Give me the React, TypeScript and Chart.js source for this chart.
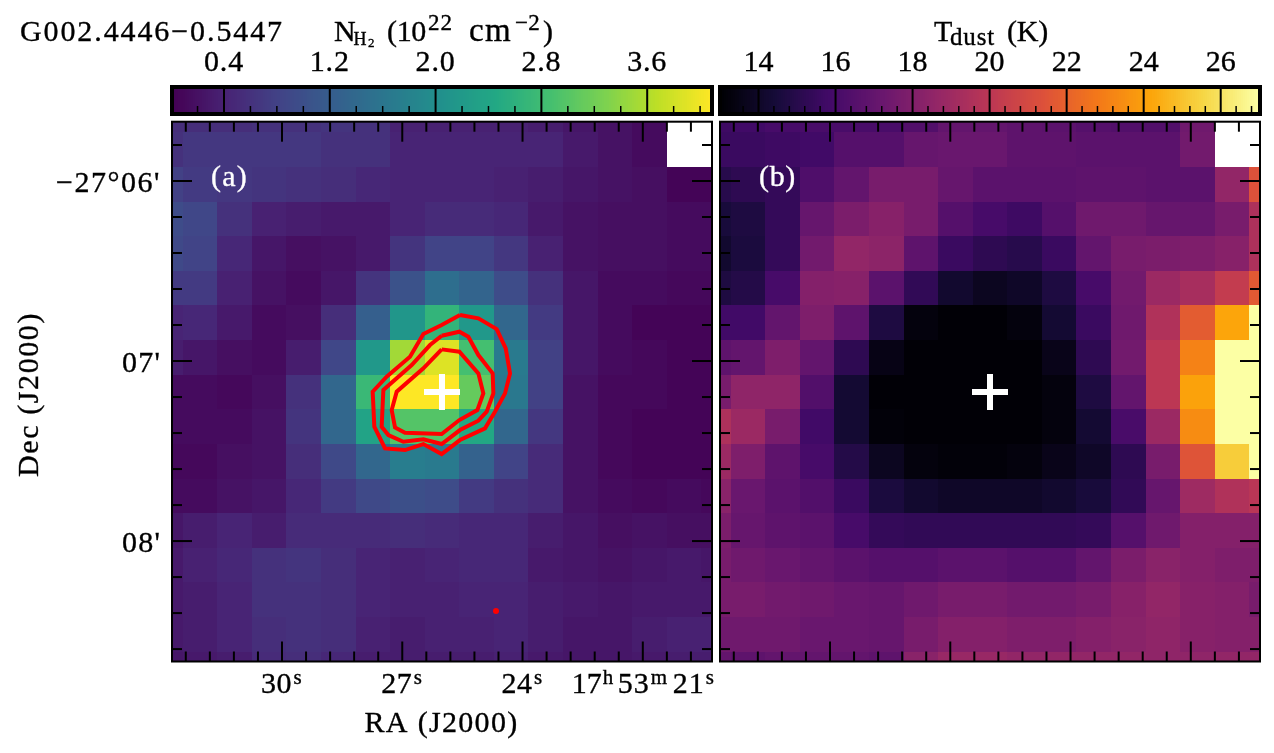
import React, { useEffect, useRef } from "react";
import { Chart, registerables } from "chart.js";

Chart.register(...registerables);

const FONT = '"Liberation Serif"';
const SIZE = 30;

// ---------- colour maps ----------
const VIRIDIS = ["#440154","#482475","#414487","#355f8d","#2a788e","#21918c","#22a884","#44bf70","#7ad151","#bddf26","#fde725"];
const INFERNO = ["#000004","#160b39","#420a68","#6a176e","#932667","#bc3754","#dd513a","#f37819","#fca50a","#f6d746","#fcffa4"];

// ---------- colour scale limits ----------
const N_LIMITS = [0.02, 4.08];
const T_LIMITS = [13.06, 26.97];

// ---------- axes ----------
const RA_RANGE = [19.274, 32.744];
const DEC_RANGE = [5.6706, 8.669];
const RA_MAJOR = [30, 27, 24, 21];
const RA_MINOR = [32.4, 31.8, 31.2, 30.6, 29.4, 28.8, 28.2, 27.6, 26.4, 25.8, 25.2, 24.6, 23.4, 22.8, 22.2, 21.6, 20.4, 19.8];
const DEC_MAJOR = [6, 7, 8];
const DEC_MINOR = [5.8, 6.2, 6.4, 6.6, 6.8, 7.2, 7.4, 7.6, 7.8, 8.2, 8.4, 8.6];
const N_BAR_RANGE = [0.007, 4.09];
const N_MAJOR = [0.4, 1.2, 2.0, 2.8, 3.6];
const N_MINOR = [0.2, 0.6, 0.8, 1.0, 1.4, 1.6, 1.8, 2.2, 2.4, 2.6, 3.0, 3.2, 3.4, 3.8, 4.0];
const N_LABELS = ["0.4", "1.2", "2.0", "2.8", "3.6"];
const T_BAR_RANGE = [13.0, 27.02];
const T_MAJOR = [14, 16, 18, 20, 22, 24, 26];
const T_MINOR = [13.6, 14.4, 14.8, 15.2, 15.6, 16.4, 16.8, 17.2, 17.6, 18.4, 18.8, 19.2, 19.6, 20.4, 20.8, 21.2, 21.6, 22.4, 22.8, 23.2, 23.6, 24.4, 24.8, 25.2, 25.6, 26.4, 26.8];
const T_LABELS = ["14", "16", "18", "20", "22", "24", "26"];

// ---------- map grid: pixel centre and size in axis units ----------
const GRID_RA_CENTRE = 26.009;
const GRID_DEC_CENTRE = 7.172;
const GRID_RA_STEP = 0.863;
const GRID_DEC_STEP = 0.1922;

// ---------- N(H2) map, 10^22 cm^-2 ----------
const N_MAP = [
  [.55,.55,.55,.59,.59,.63,.59,.39,.39,.39,.39,.34,.26,.22,.14,null,null],
  [.59,.67,.67,.67,.67,.59,.59,.43,.43,.43,.43,.43,.30,.22,.14,null,null],
  [.79,.71,.67,.63,.59,.55,.47,.43,.43,.43,.39,.34,.26,.22,.18,.06,.06],
  [.95,.87,.59,.39,.34,.30,.30,.43,.51,.51,.47,.30,.22,.18,.18,.14,.14],
  [.91,.83,.47,.26,.18,.22,.30,.63,.83,.83,.67,.39,.22,.18,.18,.14,.14],
  [.71,.71,.39,.22,.14,.26,.63,1.04,1.48,1.32,.95,.59,.26,.14,.14,.10,.10],
  [.43,.47,.30,.14,.18,.55,1.24,2.13,2.66,2.17,1.36,.71,.26,.14,.06,.06,.06],
  [.34,.26,.18,.14,.34,.87,2.17,3.51,3.88,2.86,1.68,.79,.26,.14,.10,.06,.06],
  [.14,.14,.10,.18,.59,1.36,2.74,4.08,4.08,3.11,1.64,.79,.22,.10,.10,.06,.06],
  [.14,.14,.14,.22,.63,1.36,2.37,2.98,2.98,2.46,1.36,.67,.22,.10,.06,.06,.06],
  [.10,.10,.18,.22,.55,.91,1.36,1.73,1.68,1.28,.83,.51,.22,.10,.06,.06,.06],
  [.14,.14,.22,.26,.47,.71,.91,.99,.95,.71,.59,.51,.22,.14,.10,.14,.10],
  [.26,.34,.43,.34,.51,.51,.51,.55,.51,.47,.47,.34,.26,.18,.22,.18,.18],
  [.30,.39,.47,.59,.63,.55,.43,.39,.43,.47,.47,.30,.26,.22,.26,.30,.26],
  [.30,.34,.43,.59,.59,.55,.43,.39,.39,.43,.43,.34,.30,.26,.30,.30,.30],
  [.30,.34,.43,.55,.59,.55,.39,.34,.39,.39,.43,.34,.26,.26,.34,.39,.39],
  [.26,.30,.34,.51,.55,.47,.34,.34,.34,.34,.39,.30,.26,.26,.30,.34,.34],
];

// ---------- dust temperature map, K ----------
const T_MAP = [
  [15.7,15.8,16.0,16.1,16.1,16.1,16.4,17.0,17.0,16.8,16.7,16.5,16.4,16.4,17.4,null,null],
  [15.6,15.6,15.7,15.8,16.5,16.5,17.1,17.2,17.2,16.8,16.8,16.7,16.7,16.7,17.5,null,null],
  [15.0,15.2,15.4,16.3,17.0,17.7,17.7,17.1,16.7,16.7,16.7,16.8,16.8,16.7,16.7,18.6,21.4],
  [14.5,14.7,15.4,17.1,17.8,18.2,17.7,16.5,16.0,15.7,16.5,17.4,17.4,17.1,17.1,17.7,19.5],
  [14.2,14.6,15.4,17.5,18.6,18.4,16.8,15.6,15.2,15.0,15.6,17.0,17.7,17.8,17.9,18.2,19.5],
  [14.7,14.9,16.0,18.1,18.2,16.7,15.3,14.2,13.8,14.0,14.7,16.0,17.5,18.9,19.3,20.3,21.7],
  [15.8,15.8,17.0,17.9,16.8,14.7,13.3,13.1,13.1,13.3,14.3,15.6,17.4,19.6,21.8,24.2,27.0],
  [16.8,17.0,17.9,17.0,15.2,13.5,13.1,13.1,13.1,13.1,13.6,15.2,17.5,20.0,23.1,27.0,27.0],
  [17.7,18.5,18.5,16.4,14.3,13.1,13.1,13.1,13.1,13.1,13.3,14.7,17.0,20.0,24.1,27.0,27.0],
  [19.5,18.9,17.7,15.8,14.3,13.2,13.1,13.1,13.1,13.1,13.3,14.3,16.1,18.9,23.4,27.0,27.0],
  [18.9,17.9,16.8,16.0,14.9,13.8,13.3,13.2,13.2,13.3,13.6,14.0,15.2,17.7,21.5,25.3,27.0],
  [18.3,17.2,16.7,16.4,15.6,14.6,14.2,14.0,14.0,14.0,14.2,14.5,15.3,17.1,19.0,19.6,19.9],
  [17.8,17.1,16.8,16.7,16.0,15.4,15.3,15.3,15.3,15.3,15.3,15.4,16.5,17.4,18.1,18.1,18.1],
  [17.7,17.4,17.2,17.0,16.7,16.5,16.5,16.7,16.7,16.5,16.5,17.0,17.8,18.3,18.1,17.9,17.9],
  [17.7,17.7,17.5,17.4,17.2,17.1,17.4,17.7,17.7,17.5,17.5,17.7,18.2,18.6,18.2,18.1,17.7],
  [17.4,17.4,17.4,17.2,17.2,17.1,17.7,18.1,18.1,17.9,17.9,18.1,18.3,18.5,18.2,18.1,18.1],
  [17.0,16.8,17.0,17.0,17.0,16.8,18.3,18.8,18.8,18.6,18.6,18.6,18.6,18.5,18.5,18.6,18.6],
];

// ---------- contours, in RA seconds and Dec arcminutes ----------
const OUTER_RA = [25.560,25.102,24.645,24.420,24.312,24.437,24.687,24.936,25.560,26.017,26.474,26.932,27.430,27.697,27.738,27.389,26.807,26.474,26.017,25.560];
const OUTER_DEC = [6.7445,6.7630,6.8223,6.9297,7.0686,7.1797,7.2815,7.3741,7.4389,7.5167,7.4612,7.4945,7.4853,7.3649,7.1704,7.0871,6.9760,6.8500,6.8000,6.7445];
const MIDDLE_RA = [26.017,25.576,25.352,25.102,24.745,24.728,24.894,25.102,25.560,26.017,26.474,26.973,27.347,27.514,27.472,26.765,26.308,26.017];
const MIDDLE_DEC = [6.8593,6.8371,6.8649,6.9667,7.0686,7.1797,7.2815,7.3315,7.3834,7.4612,7.4352,7.4482,7.4112,7.3649,7.1612,7.0223,6.9112,6.8593];
const INNER_RA = [26.017,25.576,25.102,24.978,25.127,25.576,26.017,26.932,27.181,27.264,27.139,26.474,26.017];
const INNER_DEC = [6.9352,6.9482,7.0686,7.1797,7.2723,7.3278,7.4056,7.3982,7.3686,7.2723,7.1704,7.0408,6.9352];
const SPOT_RA = [24.662];
const SPOT_DEC = [8.389];
const SOURCE_RA = [26.009];
const SOURCE_DEC = [7.172];

// ---------- helpers ----------
function hexToRgb(h: string) {
  return [parseInt(h.slice(1, 3), 16), parseInt(h.slice(3, 5), 16), parseInt(h.slice(5, 7), 16)];
}
function cmap(stops: string[], t: number) {
  const u = Math.max(0, Math.min(1, t)) * (stops.length - 1);
  const i = Math.min(stops.length - 2, Math.floor(u));
  const a = hexToRgb(stops[i]);
  const b = hexToRgb(stops[i + 1]);
  const f = u - i;
  return `rgb(${a.map((v, k) => Math.round(v + (b[k] - v) * f)).join(",")})`;
}
function mapCells(map: (number | null)[][]) {
  const out: any[] = [];
  map.forEach((row, r) =>
    row.forEach((v, c) => {
      if (v === null) return;
      out.push({
        x: GRID_RA_CENTRE - (c - 8) * GRID_RA_STEP,
        y: GRID_DEC_CENTRE + (r - 8) * GRID_DEC_STEP,
        v, w: GRID_RA_STEP, h: GRID_DEC_STEP,
      });
    })
  );
  return out;
}
function barCells(range: number[]) {
  const n = 256;
  const w = (range[1] - range[0]) / n;
  const out: any[] = [];
  for (let i = 0; i < n; i++) {
    const x = range[0] + (i + 0.5) * w;
    out.push({ x, y: 0.5, v: x, w, h: 1 });
  }
  return out;
}
function pts(xs: number[], ys: number[]) {
  return xs.map((x, i) => ({ x, y: ys[i] }));
}
function text(ctx: any, s: string, x: number, y: number, size: number, width?: number, color = "#000") {
  ctx.save();
  ctx.font = `${size}px ${FONT}`;
  ctx.fillStyle = color;
  ctx.strokeStyle = color;
  ctx.lineWidth = 0.35;
  ctx.textAlign = "left";
  ctx.textBaseline = "alphabetic";
  ctx.letterSpacing = "0px";
  if (width) {
    const m = ctx.measureText(s).width;
    ctx.letterSpacing = `${(width - m) / Math.max(1, s.length)}px`;
  }
  ctx.fillText(s, x, y);
  ctx.strokeText(s, x, y);
  ctx.restore();
}
function setTicks(major: number[], minor: number[]) {
  return (scale: any) => {
    scale.ticks = [
      ...major.map((value) => ({ value, major: true })),
      ...minor.map((value) => ({ value, major: false })),
    ].sort((a, b) => a.value - b.value);
  };
}
function axis(min: number, max: number, reverse: boolean, major: number[], minor: number[]) {
  return {
    type: "linear", min, max, reverse,
    grid: { display: false, drawTicks: false },
    border: { display: false },
    ticks: { display: false, autoSkip: false },
    afterBuildTicks: setTicks(major, minor),
  };
}

const cellPlugin = (stops: string[], limits: number[]) => ({
  id: "cells",
  beforeDatasetsDraw(chart: any) {
    const { ctx, chartArea: a, scales } = chart;
    ctx.save();
    ctx.beginPath();
    ctx.rect(a.left, a.top, a.right - a.left, a.bottom - a.top);
    ctx.clip();
    chart.data.datasets.forEach((ds: any) => {
      if (!ds.cells) return;
      ds.data.forEach((d: any) => {
        const x0 = Math.round(scales.x.getPixelForValue(d.x - d.w / 2));
        const x1 = Math.round(scales.x.getPixelForValue(d.x + d.w / 2));
        const y0 = Math.round(scales.y.getPixelForValue(d.y - d.h / 2));
        const y1 = Math.round(scales.y.getPixelForValue(d.y + d.h / 2));
        ctx.fillStyle = cmap(stops, (d.v - limits[0]) / (limits[1] - limits[0]));
        ctx.fillRect(Math.min(x0, x1), Math.min(y0, y1), Math.abs(x1 - x0), Math.abs(y1 - y0));
      });
    });
    ctx.restore();
  },
});

function line(ctx: any, x0: number, y0: number, x1: number, y1: number, w: number) {
  ctx.lineWidth = w;
  ctx.strokeStyle = "#000";
  ctx.beginPath();
  ctx.moveTo(x0, y0);
  ctx.lineTo(x1, y1);
  ctx.stroke();
}

const panelPlugin = (tag: string, withLabels: boolean) => ({
  id: "panel",
  afterDraw(chart: any) {
    const { ctx, chartArea: a, scales } = chart;
    scales.x.ticks.forEach((t: any) => {
      const p = scales.x.getPixelForValue(t.value);
      const len = t.major ? 20 : 10;
      line(ctx, p, a.top, p, a.top + len, 2);
      line(ctx, p, a.bottom, p, a.bottom - len, 2);
    });
    scales.y.ticks.forEach((t: any) => {
      const p = scales.y.getPixelForValue(t.value);
      const len = t.major ? 20 : 10;
      line(ctx, a.left, p, a.left + len, p, 2);
      line(ctx, a.right, p, a.right - len, p, 2);
    });
    ctx.strokeStyle = "#000";
    ctx.lineWidth = 2;
    ctx.strokeRect(a.left, a.top, a.right - a.left, a.bottom - a.top);
    text(ctx, tag, a.left + 39, a.top + 64, SIZE, 37, "#fff");
    if (!withLabels) return;
    const base = a.bottom + 31.5;
    const sup = base - 9.5;
    ["30", "27", "24"].forEach((lab, i) => {
      const p = scales.x.getPixelForValue(RA_MAJOR[i]);
      text(ctx, lab, p - 21, base, SIZE, 31);
      text(ctx, "s", p + 11.5, sup, 21, 9);
    });
    const p21 = scales.x.getPixelForValue(RA_MAJOR[3]);
    text(ctx, "17", p21 - 71, base, SIZE, 30);
    text(ctx, "h", p21 - 40, sup, 21, 13);
    text(ctx, "53", p21 - 25, base, SIZE, 32);
    text(ctx, "m", p21 + 8, sup, 21, 21);
    text(ctx, "21", p21 + 30, base, SIZE, 32);
    text(ctx, "s", p21 + 63, sup, 21, 9);
    text(ctx, "RA (J2000)", 364.5, a.bottom + 70, SIZE, 154);
    const top = chart.canvas.offsetTop;
    ["\u221227\u00b006'", "07'", "08'"].forEach((lab, i) => {
      const p = scales.y.getPixelForValue(DEC_MAJOR[i]);
      const w = i === 0 ? 105 : 39;
      text(ctx, lab, 161 - w, p + 10.5, SIZE, w);
    });
    ctx.save();
    ctx.translate(38, 477 - top);
    ctx.rotate(-Math.PI / 2);
    text(ctx, "Dec (J2000)", 0, 0, SIZE, 165);
    ctx.restore();
  },
});

const barPlugin = (labels: string[], majors: number[], width: number, drawTitle: (ctx: any) => void) => ({
  id: "bar",
  afterDraw(chart: any) {
    const { ctx, chartArea: a, scales } = chart;
    scales.x.ticks.forEach((t: any) => {
      const p = scales.x.getPixelForValue(t.value);
      if (t.major) line(ctx, p, a.top, p, a.bottom, 2);
      else line(ctx, p, a.bottom, p, a.bottom - 8, 1.5);
    });
    ctx.strokeStyle = "#000";
    ctx.lineWidth = 4;
    ctx.strokeRect(a.left, a.top, a.right - a.left, a.bottom - a.top);
    majors.forEach((m, i) => {
      const p = scales.x.getPixelForValue(m);
      text(ctx, labels[i], p - width / 2, 70.5, SIZE, width);
    });
    drawTitle(ctx);
  },
});

const drawLeftTitle = (ctx: any) => {
  text(ctx, "G002.4446\u22120.5447", 20, 41, SIZE, 264);
  text(ctx, "N", 334, 41, SIZE, 20);
  text(ctx, "H", 353.5, 45, 18, 14);
  text(ctx, "2", 368, 47, 13, 7);
  text(ctx, "(10", 387, 41, SIZE, 39);
  text(ctx, "22", 428, 30, 23, 25);
  text(ctx, "cm", 469, 41, 33, 43);
  text(ctx, "\u22122", 515, 30, 23, 25);
  text(ctx, ")", 543, 41, SIZE, 10);
};
const drawRightTitle = (ctx: any) => {
  const o = 716;
  text(ctx, "T", 934 - o, 41, SIZE, 17);
  text(ctx, "dust", 950 - o, 45, 25, 45);
  text(ctx, "(K)", 1007 - o, 41, SIZE, 41);
};

function heatConfig(map: any, stops: string[], limits: number[], tag: string, withLabels: boolean, padding: any, extra: any[]) {
  return {
    type: "scatter",
    data: {
      datasets: [
        { label: "map", cells: true, data: mapCells(map), pointRadius: 0, showLine: false },
        ...extra,
      ],
    },
    options: {
      animation: false, responsive: false, devicePixelRatio: 1,
      layout: { padding, autoPadding: false },
      plugins: { legend: { display: false }, tooltip: { enabled: false } },
      scales: {
        x: axis(RA_RANGE[0], RA_RANGE[1], true, RA_MAJOR, RA_MINOR),
        y: axis(DEC_RANGE[0], DEC_RANGE[1], true, DEC_MAJOR, DEC_MINOR),
      },
    },
    plugins: [cellPlugin(stops, limits), panelPlugin(tag, withLabels)],
  };
}
function barConfig(range: number[], stops: string[], limits: number[], major: number[], minor: number[], labels: string[], width: number, title: any, padding: any) {
  return {
    type: "scatter",
    data: { datasets: [{ label: "bar", cells: true, data: barCells(range), pointRadius: 0, showLine: false }] },
    options: {
      animation: false, responsive: false, devicePixelRatio: 1,
      layout: { padding, autoPadding: false },
      plugins: { legend: { display: false }, tooltip: { enabled: false } },
      scales: {
        x: { ...axis(range[0], range[1], false, major, minor), position: "top" },
        y: { type: "linear", display: false, min: 0, max: 1 },
      },
    },
    plugins: [cellPlugin(stops, limits), barPlugin(labels, major, width, title)],
  };
}
const contour = (label: string, xs: number[], ys: number[]) => ({
  label, data: pts(xs, ys), showLine: true, borderColor: "#ff0000", backgroundColor: "#ff0000",
  borderWidth: 4, pointRadius: 0, tension: 0, fill: false,
});
const sourceMark = () => ({
  label: "source", data: pts(SOURCE_RA, SOURCE_DEC), showLine: false, pointStyle: "cross",
  pointRadius: 18, pointBorderWidth: 6, pointBorderColor: "#fff", borderColor: "#fff", borderWidth: 6,
});

function ChartCanvas({ left, top, width, height, make }: any) {
  const ref = useRef<HTMLCanvasElement>(null);
  useEffect(() => {
    const chart = new Chart(ref.current as any, make());
    return () => chart.destroy();
  }, []);
  return <canvas ref={ref} width={width} height={height} style={{ position: "absolute", left, top, width, height, display: "block" }} />;
}

export default function App() {
  return (
    <div style={{ position: "absolute", left: 0, top: 0, width: 1274, height: 753, overflow: "hidden", background: "#fff" }}>
      <ChartCanvas left={0} top={118} width={730} height={635} make={() =>
        heatConfig(N_MAP, VIRIDIS, N_LIMITS, "(a)", true,
          { left: 172, right: 18, top: 3.7, bottom: 91.5 },
          [
            contour("outer", OUTER_RA, OUTER_DEC),
            contour("middle", MIDDLE_RA, MIDDLE_DEC),
            contour("inner", INNER_RA, INNER_DEC),
            { label: "spot", data: pts(SPOT_RA, SPOT_DEC), showLine: false, pointRadius: 3, pointBackgroundColor: "#ff0000", pointBorderWidth: 0 },
            sourceMark(),
          ])
      } />
      <ChartCanvas left={716} top={118} width={558} height={635} make={() =>
        heatConfig(T_MAP, INFERNO, T_LIMITS, "(b)", false,
          { left: 4, right: 14, top: 3.7, bottom: 91.5 },
          [sourceMark()])
      } />
      <ChartCanvas left={0} top={0} width={716} height={118} make={() =>
        barConfig(N_BAR_RANGE, VIRIDIS, N_LIMITS, N_MAJOR, N_MINOR, N_LABELS, 40, drawLeftTitle,
          { left: 172, right: 4, top: 87, bottom: 4 })
      } />
      <ChartCanvas left={716} top={0} width={558} height={118} make={() =>
        barConfig(T_BAR_RANGE, INFERNO, T_LIMITS, T_MAJOR, T_MINOR, T_LABELS, 30, drawRightTitle,
          { left: 4, right: 14, top: 87, bottom: 4 })
      } />
    </div>
  );
}
